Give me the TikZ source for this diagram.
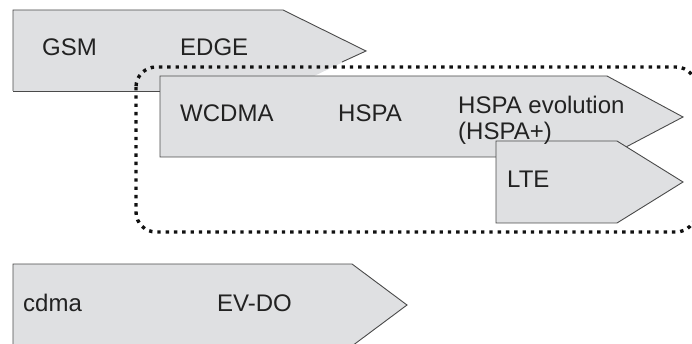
\documentclass[tikz,border=0pt]{standalone}
\usepackage{fontspec}
\setmainfont{Liberation Sans}
\definecolor{bandfill}{HTML}{DFE0E2}
\definecolor{bandline}{HTML}{4A4A4A}
\definecolor{labeltext}{HTML}{222222}
\definecolor{dotcol}{HTML}{111111}
\tikzset{
  band/.style={fill=bandfill, draw=bandline, line width=0.9pt, line join=miter},
  lbl/.style={anchor=base west, inner sep=0pt, text=labeltext, font=\fontsize{24}{26}\selectfont},
  groupline/.style={draw=dotcol, line width=3.4pt, dash pattern=on 3.4pt off 4.9pt, rounded corners=20pt}
}
\begin{document}
\begin{tikzpicture}[x=1pt, y=-1pt]
\useasboundingbox (0,0) rectangle (692,344);
\clip (0,0) rectangle (692,344);

% GSM / EDGE band (lower slant hidden under the WCDMA band)
\fill[bandfill] (13,10) -- (283,10) -- (366,51) -- (283,91) -- (13,91) -- cycle;
\draw[draw=bandline, line width=0.9pt] (13,91) -- (13,10) -- (283,10) -- (366,51) -- (342,62);
\draw[draw=bandline, line width=0.9pt] (13,91) -- (160,91);
\coordinate (gsmband) at (13,51);

% WCDMA / HSPA band
\path[band] (160,76) -- (607,76) -- (683,117) -- (607,157) -- (160,157) -- cycle;
\coordinate (wcdmaband) at (160,117);

% LTE band
\path[band] (496,141) -- (617,141) -- (683,182) -- (617,223) -- (496,223) -- cycle;
\coordinate (lteband) at (496,182);

% cdma / EV-DO band
\path[band] (13,264) -- (352,264) -- (407,305) -- (352,346) -- (13,346) -- cycle;
\coordinate (cdmaband) at (13,305);

% labels
\node[lbl] (gsm) at (42,56) {GSM};
\node[lbl] (edge) at (180,56) {EDGE};
\node[lbl] (wcdma) at (180,122) {WCDMA};
\node[lbl] (hspa) at (338,122) {HSPA};
\node[lbl] (hspaevo) at (458,114) {HSPA evolution};
\node[lbl] (hspaplus) at (458,140) {(HSPA+)};
\node[lbl] (lte) at (507,188) {LTE};
\node[lbl] (cdma) at (23,311) {cdma};
\node[lbl] (evdo) at (217,311) {EV-DO};

% dotted grouping of the 3GPP evolution track
\draw[groupline] (136,67) rectangle (696,232);
\end{tikzpicture}
\end{document}
